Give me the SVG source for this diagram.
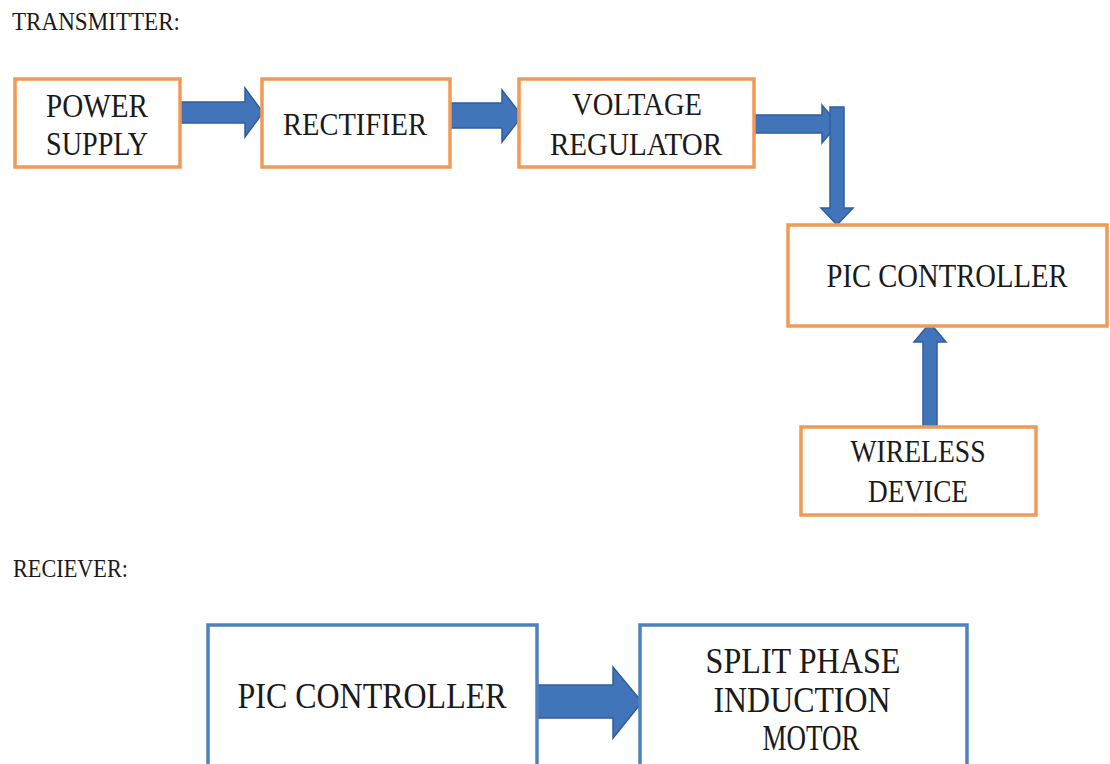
<svg xmlns="http://www.w3.org/2000/svg" width="1110" height="764" viewBox="0 0 1110 764">
<style>
.ob{fill:#ffffff;stroke:#F09A55;stroke-width:3.5}
.bb{fill:#ffffff;stroke:#4F81BD;stroke-width:3.5}
.t{font-family:"Liberation Serif","Times New Roman",serif;fill:#1a1a1a;text-anchor:middle}
.h{font-family:"Liberation Serif","Times New Roman",serif;fill:#1a1a1a;font-size:25px}
.ar{fill:#4274BA;stroke:#2F5E9E;stroke-width:1.5;stroke-linejoin:miter}
</style>
<rect width="1110" height="764" fill="#ffffff"/>
<text class="h" x="12" y="30" textLength="168" lengthAdjust="spacingAndGlyphs">TRANSMITTER:</text>
<text class="h" x="13" y="577" textLength="115" lengthAdjust="spacingAndGlyphs">RECIEVER:</text>

<g id="connectors">
<polygon class="ar" points="180,102 245,102 245,88 263,112.5 245,137 245,123 180,123"/>
<polygon class="ar" points="450,103 502,103 502,90 522,116 502,142 502,128 450,128"/>
<polygon class="ar" points="755,115 822,115 822,105 838,124 822,143 822,133 755,133"/>
<polygon class="ar" points="830,107 844,107 844,208 853,208 837,225 821,208 830,208"/>
<polygon class="ar" points="923,427 937,427 937,342 946,342 930,323 914,342 923,342"/>
<polygon class="ar" points="537,685 613,685 613,667 642,702 613,738 613,718 537,718"/>
</g>

<g id="power-supply">
<rect class="ob" x="15" y="79" width="165" height="88"/>
<text class="t" x="97" y="117" font-size="33" textLength="102" lengthAdjust="spacingAndGlyphs">POWER</text>
<text class="t" x="97" y="155" font-size="33" textLength="102" lengthAdjust="spacingAndGlyphs">SUPPLY</text>
</g>
<g id="rectifier">
<rect class="ob" x="262" y="79" width="188" height="88"/>
<text class="t" x="355" y="135" font-size="32" textLength="144" lengthAdjust="spacingAndGlyphs">RECTIFIER</text>
</g>
<g id="voltage-regulator">
<rect class="ob" x="519" y="79" width="235" height="88"/>
<text class="t" x="637" y="115" font-size="32" textLength="130" lengthAdjust="spacingAndGlyphs">VOLTAGE</text>
<text class="t" x="636" y="155" font-size="32" textLength="172" lengthAdjust="spacingAndGlyphs">REGULATOR</text>
</g>
<g id="pic-controller-tx">
<rect class="ob" x="788" y="225" width="319" height="101"/>
<text class="t" x="947" y="287" font-size="33" textLength="241" lengthAdjust="spacingAndGlyphs">PIC CONTROLLER</text>
</g>
<g id="wireless-device">
<rect class="ob" x="801" y="427" width="235" height="88"/>
<text class="t" x="918" y="462" font-size="32" textLength="135" lengthAdjust="spacingAndGlyphs">WIRELESS</text>
<text class="t" x="918" y="502" font-size="32" textLength="100" lengthAdjust="spacingAndGlyphs">DEVICE</text>
</g>
<g id="pic-controller-rx">
<rect class="bb" x="208" y="625" width="329" height="150"/>
<text class="t" x="372" y="708" font-size="35" textLength="269" lengthAdjust="spacingAndGlyphs">PIC CONTROLLER</text>
</g>
<g id="split-phase-motor">
<rect class="bb" x="640" y="625" width="327" height="150"/>
<text class="t" x="803" y="673" font-size="35" textLength="195" lengthAdjust="spacingAndGlyphs">SPLIT PHASE</text>
<text class="t" x="802" y="712" font-size="35" textLength="177" lengthAdjust="spacingAndGlyphs">INDUCTION</text>
<text class="t" x="811" y="750" font-size="35" textLength="97" lengthAdjust="spacingAndGlyphs">MOTOR</text>
</g>
</svg>
